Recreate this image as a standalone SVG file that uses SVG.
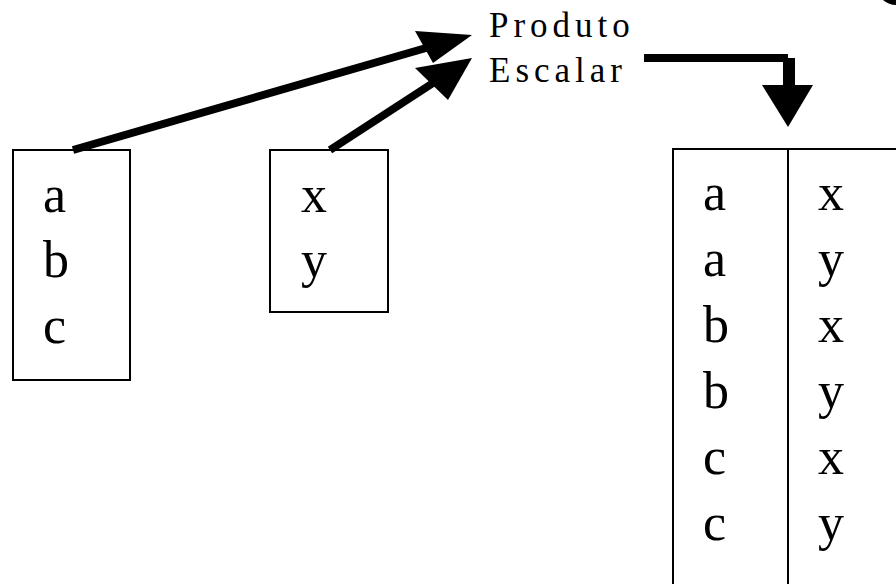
<svg xmlns="http://www.w3.org/2000/svg" width="896" height="584" viewBox="0 0 896 584">
  <style>
    .box { fill: #fff; stroke: #000; stroke-width: 2; }
    .big { font-family: "Liberation Serif", "Times New Roman", serif; font-size: 52px; fill: #000; }
    .lbl { font-family: "Liberation Serif", "Times New Roman", serif; font-size: 35px; letter-spacing: 5px; fill: #000; }
    .shaft { stroke: #000; stroke-width: 8; fill: none; }
    .head { fill: #000; }
  </style>
  <rect width="896" height="584" fill="#fff"/>

  <!-- set A -->
  <g id="setA">
    <rect class="box" x="13" y="150" width="117" height="230"/>
    <text class="big" x="43" y="212">a</text>
    <text class="big" x="43" y="277">b</text>
    <text class="big" x="43" y="343">c</text>
  </g>

  <!-- set B -->
  <g id="setB">
    <rect class="box" x="270" y="150" width="118" height="162"/>
    <text class="big" x="301" y="212">x</text>
    <text class="big" x="301" y="277">y</text>
  </g>

  <!-- operation label -->
  <g id="operation">
    <text class="lbl" x="489" y="37">Produto</text>
    <text class="lbl" x="489" y="82">Escalar</text>
  </g>

  <!-- resulting pairs -->
  <g id="result">
    <path d="M673,584 V149 H898 M788,149 V584" stroke="#000" stroke-width="2" fill="none"/>
    <text class="big" x="703" y="210">a</text>
    <text class="big" x="703" y="276">a</text>
    <text class="big" x="703" y="342">b</text>
    <text class="big" x="703" y="408">b</text>
    <text class="big" x="703" y="474">c</text>
    <text class="big" x="703" y="540">c</text>
    <text class="big" x="818" y="210">x</text>
    <text class="big" x="818" y="276">y</text>
    <text class="big" x="818" y="342">x</text>
    <text class="big" x="818" y="408">y</text>
    <text class="big" x="818" y="474">x</text>
    <text class="big" x="818" y="540">y</text>
  </g>

  <!-- partial shape at the corner -->
  <g id="corner">
    <path d="M883,0 Q889,5 896,5 V0 Z" fill="#000"/>
  </g>

  <g id="connectors">
    <line class="shaft" x1="73" y1="150" x2="426" y2="48"/>
    <polygon class="head" points="472,35 415,31 433,63"/>
    <line class="shaft" x1="330" y1="150" x2="433" y2="83"/>
    <polygon class="head" points="472,58 415,68 448,100"/>
    <rect x="644" y="54" width="144" height="8" fill="#000"/>
    <rect x="783" y="58" width="12" height="28" fill="#000"/>
    <polygon class="head" points="762,85 813,85 788,127"/>
  </g>
</svg>
